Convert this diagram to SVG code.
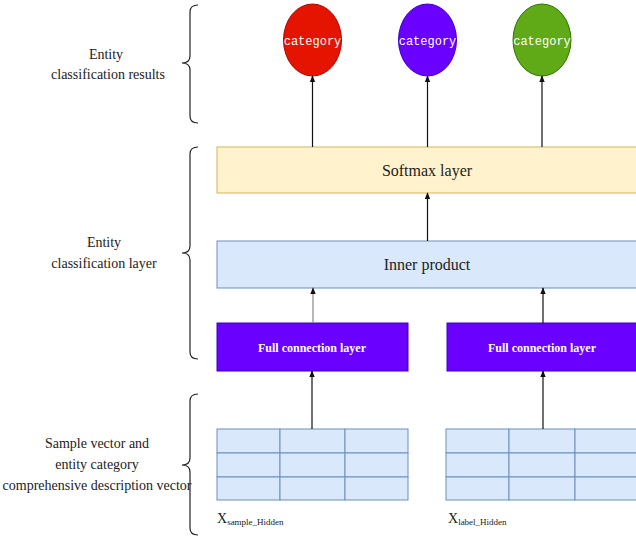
<svg xmlns="http://www.w3.org/2000/svg" width="636" height="537" viewBox="0 0 636 537">
<style>
.lbl{font-family:"Liberation Serif","Times New Roman",serif;font-size:14px;fill:#222;text-anchor:middle}
.cat{font-family:"Liberation Mono","Courier New",monospace;font-size:12px;fill:#fff;text-anchor:middle}
.big{font-family:"Liberation Serif","Times New Roman",serif;font-size:16px;fill:#222;text-anchor:middle}
.fc{font-family:"Liberation Serif","Times New Roman",serif;font-size:12px;font-weight:bold;fill:#fff;text-anchor:middle}
.sub{font-family:"Liberation Serif","Times New Roman",serif;fill:#222}
.brace{fill:none;stroke:#222;stroke-width:1.2}
.conn{stroke:#111;stroke-width:1.2;fill:none;marker-end:url(#ah)}
.cell{fill:#dae8fc;stroke:#6c8ebf;stroke-width:1}
</style>
<defs>
<marker id="ah" viewBox="0 0 10 10" refX="9" refY="5" markerWidth="7" markerHeight="7" orient="auto" markerUnits="userSpaceOnUse">
<path d="M0,1 L10,5 L0,9 z" fill="#111"/>
</marker>
</defs>
<rect width="636" height="537" fill="#fff"/>

<g id="label-results">
<path class="brace" d="M198,5 Q190,5 190,12 L190,56 Q190,63 182,63 Q190,63 190,70 L190,116 Q190,123 198,123"/>
<text class="lbl" x="106" y="59">Entity</text>
<text class="lbl" x="108" y="79">classification results</text>
</g>
<g id="label-layer">
<path class="brace" d="M198,147 Q190,147 190,154 L190,246 Q190,253 182,253 Q190,253 190,260 L190,352 Q190,359 198,359"/>
<text class="lbl" x="104" y="247">Entity</text>
<text class="lbl" x="104" y="268">classification layer</text>
</g>
<g id="label-vector">
<path class="brace" d="M198,394 Q190,394 190,401 L190,458 Q190,465 182,465 Q190,465 190,472 L190,528 Q190,535 198,535"/>
<text class="lbl" x="97" y="448">Sample vector and</text>
<text class="lbl" x="97" y="469">entity category</text>
<text class="lbl" x="97" y="490">comprehensive description vector</text>
</g>

<g id="cat-red">
<ellipse cx="312.5" cy="40" rx="29" ry="36" fill="#e51400" stroke="#b20000"/>
<text class="cat" x="312.5" y="45">category</text>
</g>
<g id="cat-purple">
<ellipse cx="427.5" cy="40" rx="29" ry="36" fill="#6a00ff" stroke="#3700cc"/>
<text class="cat" x="427.5" y="45">category</text>
</g>
<g id="cat-green">
<ellipse cx="542" cy="40" rx="29" ry="36" fill="#60a917" stroke="#2d7600"/>
<text class="cat" x="542" y="45">category</text>
</g>

<g id="softmax">
<rect x="217" y="147" width="421" height="46" fill="#fff2cc" stroke="#d6b656"/>
<text class="big" x="427" y="176">Softmax layer</text>
</g>
<g id="inner">
<rect x="217" y="241" width="421" height="47" fill="#dae8fc" stroke="#6c8ebf"/>
<text class="big" x="427" y="270">Inner product</text>
</g>
<g id="fc-left">
<rect x="217" y="323" width="191" height="48" fill="#6a00ff" stroke="#3700cc"/>
<text class="fc" x="312" y="352">Full connection layer</text>
</g>
<g id="fc-right">
<rect x="447" y="323" width="191" height="48" fill="#6a00ff" stroke="#3700cc"/>
<text class="fc" x="542" y="352">Full connection layer</text>
</g>

<g id="table-left">
<rect class="cell" x="217" y="429" width="63" height="24"/>
<rect class="cell" x="280" y="429" width="65" height="24"/>
<rect class="cell" x="345" y="429" width="63" height="24"/>
<rect class="cell" x="217" y="453" width="63" height="24"/>
<rect class="cell" x="280" y="453" width="65" height="24"/>
<rect class="cell" x="345" y="453" width="63" height="24"/>
<rect class="cell" x="217" y="477" width="63" height="23"/>
<rect class="cell" x="280" y="477" width="65" height="23"/>
<rect class="cell" x="345" y="477" width="63" height="23"/>
<text class="sub" x="217" y="523" font-size="14">X<tspan font-size="9" dy="2">sample_Hidden</tspan></text>
</g>
<g id="table-right">
<rect class="cell" x="446" y="429" width="63" height="24"/>
<rect class="cell" x="509" y="429" width="66" height="24"/>
<rect class="cell" x="575" y="429" width="63" height="24"/>
<rect class="cell" x="446" y="453" width="63" height="24"/>
<rect class="cell" x="509" y="453" width="66" height="24"/>
<rect class="cell" x="575" y="453" width="63" height="24"/>
<rect class="cell" x="446" y="477" width="63" height="23"/>
<rect class="cell" x="509" y="477" width="66" height="23"/>
<rect class="cell" x="575" y="477" width="63" height="23"/>
<text class="sub" x="448" y="523" font-size="14">X<tspan font-size="9" dy="2">label_Hidden</tspan></text>
</g>

<g id="connectors">
<line class="conn" x1="312.5" y1="147" x2="312.5" y2="76"/>
<line class="conn" x1="427.5" y1="147" x2="427.5" y2="76"/>
<line class="conn" x1="542" y1="147" x2="542" y2="76"/>
<line class="conn" x1="427.5" y1="241" x2="427.5" y2="193"/>
<line class="conn" x1="313" y1="323" x2="313" y2="288" style="stroke:#888"/>
<line class="conn" x1="543" y1="323" x2="543" y2="288"/>
<line class="conn" x1="312" y1="429" x2="312" y2="371"/>
<line class="conn" x1="543" y1="429" x2="543" y2="371"/>
</g>
</svg>
